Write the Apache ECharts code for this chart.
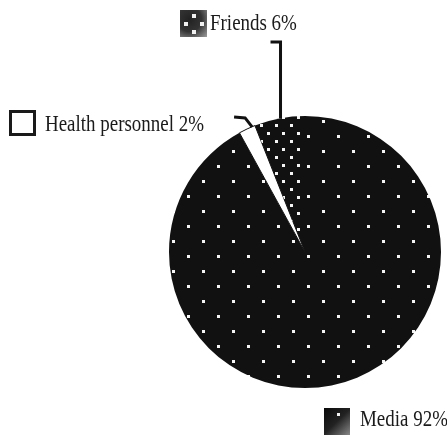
<!DOCTYPE html>
<html><head><meta charset="utf-8">
<script src="https://cdn.jsdelivr.net/npm/echarts@6/dist/echarts.min.js"></script>
<style>html,body{margin:0;padding:0;background:#fff}#c{width:447px;height:436px}</style>
</head><body><div id="c"></div>
<script>
// ---- data ----
const categories = ['Media', 'Health personnel', 'Friends'];
const values = [92, 2, 6];
const labelTexts = categories.map((c, i) => c + ' ' + values[i] + '%');

// ---- styling helpers ----
function makeTile(w, h, dots, bg, s) {
  const c = document.createElement('canvas');
  c.width = w; c.height = h;
  const g = c.getContext('2d');
  g.fillStyle = bg; g.fillRect(0, 0, w, h);
  g.fillStyle = '#f4f4f4';
  dots.forEach(d => g.fillRect(d[0], d[1], s, s));
  return c;
}
const mediaTile = makeTile(30, 30, [[22, 0], [7, 15]], '#111', 3);
const friendsTile = makeTile(15, 16, [[5, 12], [12, 4]], '#111', 3);

const sliceStyles = [
  { color: { image: mediaTile, repeat: 'repeat' }, borderWidth: 0 },
  { color: '#ffffff', borderColor: '#111', borderWidth: 1 },
  { color: { image: friendsTile, repeat: 'repeat' }, borderWidth: 0 }
];

const CX = 305, CY = 252, R = 136;
const total = values.reduce((a, b) => a + b, 0);
let acc = 0;
const midAngles = values.map(v => { const a = 90 - (acc + v / 2) / total * 360; acc += v; return a; });
function anchor(i) {
  const r = midAngles[i] * Math.PI / 180;
  return [CX + R * Math.cos(r), CY - R * Math.sin(r)];
}
const fA = anchor(2), hA = anchor(1);

const font = '24px "Liberation Serif", "Times New Roman", serif';
function txt(t, x, y) {
  return { type: 'text', x: x, y: y, scaleX: 0.79, silent: true, z: 10,
    style: { text: t, font: font, fill: '#1a1a1a', textVerticalAlign: 'middle', verticalAlign: 'middle' } };
}
function dot(x, y, s) { return { type: 'rect', shape: { x: x, y: y, width: s, height: s }, style: { fill: '#f0f0f0' }, z: 11, silent: true }; }

const chart = echarts.init(document.getElementById('c'), null, { renderer: 'canvas' });
chart.setOption({
  animation: false,
  backgroundColor: '#ffffff',
  series: [{
    type: 'pie',
    center: [CX, CY],
    radius: R,
    startAngle: 90,
    clockwise: true,
    silent: true,
    label: { show: false },
    labelLine: { show: false },
    emphasis: { disabled: true },
    data: categories.map((n, i) => ({ name: n, value: values[i], itemStyle: sliceStyles[i] }))
  }],
  graphic: [
    // Friends icon
    { type: 'rect', shape: { x: 180, y: 10, width: 27, height: 27 }, z: 10, silent: true,
      style: { fill: { type: 'radial', x: 0.35, y: 0.35, r: 0.9, colorStops: [{ offset: 0, color: '#222' }, { offset: 0.5, color: '#333' }, { offset: 1, color: '#999' }] } } },
    dot(192, 14, 4), dot(184, 22, 4), dot(200, 22, 4), dot(192, 30, 4),
    txt(labelTexts[2], 210, 24),
    // Health icon
    { type: 'rect', shape: { x: 10.5, y: 111.5, width: 24, height: 23 }, z: 10, silent: true,
      style: { fill: '#fff', stroke: '#1a1a1a', lineWidth: 3 } },
    txt(labelTexts[1], 45, 125),
    // Media icon
    { type: 'rect', shape: { x: 324, y: 408, width: 26, height: 27 }, z: 10, silent: true,
      style: { fill: { type: 'linear', x: 0, y: 0, x2: 1, y2: 1, colorStops: [{ offset: 0, color: '#0a0a0a' }, { offset: 0.5, color: '#222' }, { offset: 1, color: '#888' }] } } },
    dot(337, 413, 3),
    txt(labelTexts[0], 360, 420),
    // leader lines
    { type: 'polyline', z: 9, silent: true, shape: { points: [[fA[0] + 1, fA[1]], [fA[0] + 1, 42], [fA[0] - 9, 42]] },
      style: { stroke: '#111', lineWidth: 3, fill: null } },
    { type: 'polyline', z: 9, silent: true, shape: { points: [[hA[0] + 5, hA[1] - 2], [hA[0] - 2, hA[1] - 11], [hA[0] - 13, hA[1] - 12]] },
      style: { stroke: '#111', lineWidth: 3, fill: null } }
  ]
});
</script>
</body></html>
